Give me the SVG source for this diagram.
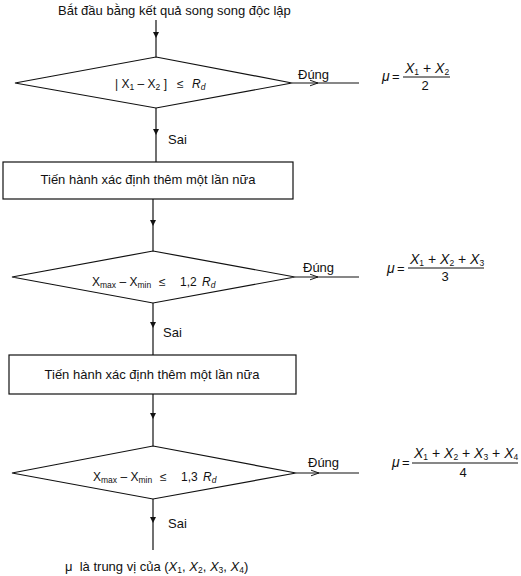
<svg xmlns="http://www.w3.org/2000/svg" width="521" height="576" viewBox="0 0 521 576">
<style>
  text { font-family: "Liberation Sans", Arial, sans-serif; fill: #111; white-space: pre; }
  .t { font-size: 13px; }
  .d { font-size: 12px; }
  .f { font-size: 14px; }
  .i { font-style: italic; }
  .s { font-size: 8.5px; }
  .shape { fill: #fff; stroke: #111; stroke-width: 1.2; }
  .line { fill: none; stroke: #111; stroke-width: 1.2; }
</style>
<defs>
  <marker id="down" viewBox="0 0 10 10" refX="10" refY="5" markerWidth="9" markerHeight="6" orient="auto" markerUnits="userSpaceOnUse">
    <path d="M0 0 L10 5 L0 10 Z" fill="#111"/>
  </marker>
  <marker id="open" viewBox="0 0 10 10" refX="10" refY="5" markerWidth="8" markerHeight="8" orient="auto" markerUnits="userSpaceOnUse">
    <path d="M0 1.5 L10 5 L0 8.5" fill="none" stroke="#111" stroke-width="1.2"/>
  </marker>
</defs>
<rect width="521" height="576" fill="#fff"/>

<g id="connectors">
  <path class="line" d="M156 20 L156 38 L156 57" marker-mid="url(#down)"/>
  <path class="line" d="M156 108 L156 135 L156 162" marker-mid="url(#down)"/>
  <path class="line" d="M153 199 L153 226 L153 251" marker-mid="url(#down)"/>
  <path class="line" d="M153 303 L153 328 L153 355" marker-mid="url(#down)"/>
  <path class="line" d="M153 394 L153 419 L153 446" marker-mid="url(#down)"/>
  <path class="line" d="M153 499 L153 523 L153 550" marker-mid="url(#down)"/>
  <path class="line" d="M292 83 L318 83 L359 83" marker-mid="url(#open)"/>
  <path class="line" d="M295 277 L318 277 L359 277" marker-mid="url(#open)"/>
  <path class="line" d="M296 473 L319 473 L359 473" marker-mid="url(#open)"/>
  <text class="t" x="168" y="144">Sai</text>
  <text class="t" x="163" y="337">Sai</text>
  <text class="t" x="168" y="528">Sai</text>
  <text class="t" x="298" y="79">Đúng</text>
  <text class="t" x="303" y="272">Đúng</text>
  <text class="t" x="308" y="467">Đúng</text>
</g>

<g id="start">
  <text class="t" x="58" y="15">Bắt đầu bằng kết quả song song độc lập</text>
</g>

<g id="decision1">
  <polygon class="shape" points="156,57 292,83 156,108 15,83"/>
  <text class="d" x="115" y="88">| X<tspan class="s" dy="2">1</tspan><tspan dy="-2"> – X</tspan><tspan class="s" dy="2">2</tspan><tspan dy="-2"> ]</tspan><tspan x="177">≤</tspan><tspan class="i" x="192">R</tspan><tspan class="s i" dy="2">d</tspan></text>
</g>

<g id="result1">
  <text class="f i" x="382" y="81">μ</text>
  <text class="t" x="392" y="81">=</text>
  <text class="f" x="405" y="73"><tspan class="i">X</tspan><tspan class="s" dy="2">1</tspan><tspan dy="-2"> + </tspan><tspan class="i">X</tspan><tspan class="s" dy="2">2</tspan></text>
  <line class="line" x1="403" y1="77" x2="450" y2="77" stroke-width="1"/>
  <text class="t" x="425" y="90" text-anchor="middle">2</text>
</g>

<g id="process1">
  <rect class="shape" x="3" y="162" width="290" height="37"/>
  <text class="t" x="148" y="184" text-anchor="middle">Tiến hành xác định thêm một lần nữa</text>
</g>

<g id="decision2">
  <polygon class="shape" points="153,251 295,277 153,303 12,277"/>
  <text class="d" x="92" y="286">X<tspan class="s" dy="2">max</tspan><tspan dy="-2"> – X</tspan><tspan class="s" dy="2">min</tspan><tspan dy="-2" x="159">≤</tspan><tspan x="180">1,2</tspan><tspan class="i" x="202">R</tspan><tspan class="s i" dy="2">d</tspan></text>
</g>

<g id="result2">
  <text class="f i" x="387" y="273">μ</text>
  <text class="t" x="397" y="273">=</text>
  <text class="f" x="410" y="264"><tspan class="i">X</tspan><tspan class="s" dy="2">1</tspan><tspan dy="-2"> + </tspan><tspan class="i">X</tspan><tspan class="s" dy="2">2</tspan><tspan dy="-2"> + </tspan><tspan class="i">X</tspan><tspan class="s" dy="2">3</tspan></text>
  <line class="line" x1="408" y1="268" x2="484" y2="268" stroke-width="1"/>
  <text class="t" x="445" y="281" text-anchor="middle">3</text>
</g>

<g id="process2">
  <rect class="shape" x="9" y="355" width="287" height="39"/>
  <text class="t" x="152" y="379" text-anchor="middle">Tiến hành xác định thêm một lần nữa</text>
</g>

<g id="decision3">
  <polygon class="shape" points="153,446 296,473 153,499 12,473"/>
  <text class="d" x="93" y="481">X<tspan class="s" dy="2">max</tspan><tspan dy="-2"> – X</tspan><tspan class="s" dy="2">min</tspan><tspan dy="-2" x="160">≤</tspan><tspan x="181">1,3</tspan><tspan class="i" x="203">R</tspan><tspan class="s i" dy="2">d</tspan></text>
</g>

<g id="result3">
  <text class="f i" x="392" y="467">μ</text>
  <text class="t" x="402" y="467">=</text>
  <text class="f" x="414" y="458"><tspan class="i">X</tspan><tspan class="s" dy="2">1</tspan><tspan dy="-2"> + </tspan><tspan class="i">X</tspan><tspan class="s" dy="2">2</tspan><tspan dy="-2"> + </tspan><tspan class="i">X</tspan><tspan class="s" dy="2">3</tspan><tspan dy="-2"> + </tspan><tspan class="i">X</tspan><tspan class="s" dy="2">4</tspan></text>
  <line class="line" x1="412" y1="463" x2="518" y2="463" stroke-width="1"/>
  <text class="t" x="463" y="477" text-anchor="middle">4</text>
</g>

<g id="end">
  <text class="t" x="65" y="571">μ  là trung vị của (<tspan class="i">X</tspan><tspan class="s" dy="2">1</tspan><tspan dy="-2">, </tspan><tspan class="i">X</tspan><tspan class="s" dy="2">2</tspan><tspan dy="-2">, </tspan><tspan class="i">X</tspan><tspan class="s" dy="2">3</tspan><tspan dy="-2">, </tspan><tspan class="i">X</tspan><tspan class="s" dy="2">4</tspan><tspan dy="-2">)</tspan></text>
</g>
</svg>
